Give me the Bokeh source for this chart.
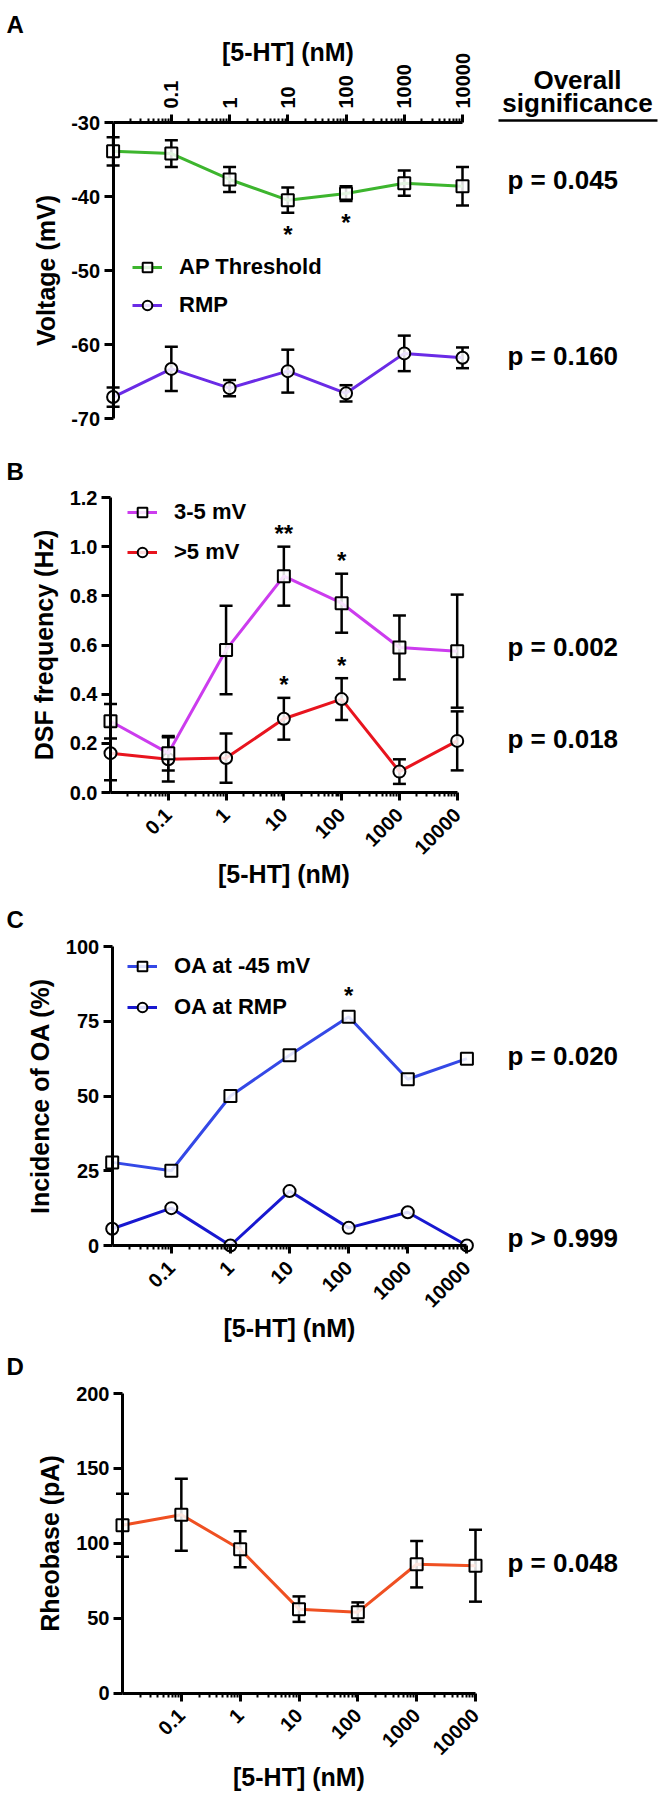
import math
from bokeh.plotting import figure
from bokeh.layouts import column
from bokeh.models import (Range1d, FixedTicker, Label, Legend, LegendItem, Arrow,
                          NumeralTickFormatter)
from bokeh.embed import file_html
from bokeh.resources import INLINE

# ---------------- data ----------------
conc = [0.01, 0.1, 1, 10, 100, 1000, 10000]          # control plotted at 0.01
tick_conc = [0.1, 1, 10, 100, 1000, 10000]
tick_labels = ["0.1", "1", "10", "100", "1000", "10000"]
x_title = "[5-HT] (nM)"

# A
ap_mean = [-33.9, -34.2, -37.7, -40.5, -39.6, -38.2, -38.6]
ap_sem = [1.9, 1.8, 1.7, 1.7, 1.0, 1.7, 2.6]
rmp_mean = [-67.1, -63.3, -65.9, -63.6, -66.6, -61.2, -61.8]
rmp_sem = [1.3, 3.0, 1.1, 2.9, 1.1, 2.4, 1.4]
a_yticks = [-70, -60, -50, -40, -30]
a_p = ["p = 0.045", "p = 0.160"]
a_sig_idx = [3, 4]
a_sig_txt = ["*", "*"]

# B
dsf35_mean = [0.29, 0.16, 0.58, 0.88, 0.77, 0.59, 0.575]
dsf35_sem = [0.07, 0.07, 0.18, 0.12, 0.12, 0.13, 0.23]
dsf5_mean = [0.16, 0.135, 0.14, 0.30, 0.38, 0.085, 0.21]
dsf5_sem = [0.11, 0.09, 0.10, 0.085, 0.085, 0.05, 0.12]
b_yticks = [0.0, 0.2, 0.4, 0.6, 0.8, 1.0, 1.2]
b_p = ["p = 0.002", "p = 0.018"]
b_sig35_idx = [3, 4]
b_sig35_txt = ["**", "*"]
b_sig5_idx = [3, 4]
b_sig5_txt = ["*", "*"]

# C
oa45 = [27.8, 25.0, 50.0, 63.6, 76.5, 55.6, 62.5]
oarmp = [5.6, 12.5, 0.0, 18.2, 5.9, 11.1, 0.0]
c_yticks = [0, 25, 50, 75, 100]
c_p = ["p = 0.020", "p > 0.999"]
c_sig_idx = [4]
c_sig_txt = ["*"]

# D
rheo_mean = [112, 119, 96, 56, 54, 86, 85]
rheo_sem = [21, 24, 12, 8.5, 6.5, 15.5, 24]
d_yticks = [0, 50, 100, 150, 200]
d_p = ["p = 0.048"]

# ---------------- style / layout ----------------
W = 666
FONT = "Liberation Sans"
P_X = 507
LBL_DY = 9          # baseline correction for Label annotations
MINOR = [m * 10.0 ** e for e in range(-2, 4) for m in range(2, 10)]

GREEN = "#3DB52E"
PURPLE = "#6A2BE6"
MAGENTA = "#CC3CEE"
RED = "#E8141E"
BLUE1 = "#3448E6"
BLUE2 = "#1818D0"
ORANGE = "#EF5022"


class Geo:
    pass


def make_fig(H, axl, axr, axt, axb, ylo, yhi, yticks, yfmt, ylabel, x_above,
             ylab_standoff, xlab_standoff, xtick_standoff):
    # the frame covers the whole figure; axes are pinned inside it
    g = Geo()
    g.H = H
    g.dec = (axr - axl) / 6.0
    g.upp = (yhi - ylo) / float(axb - axt)
    g.xs = 0.01 / 10 ** (axl / g.dec)
    g.xe = 10000 * 10 ** ((W - axr) / g.dec)
    g.ys = ylo - (H - axb) * g.upp
    g.ye = yhi + axt * g.upp
    g.axl, g.axr = axl, axr
    p = figure(x_axis_type="log", x_axis_location="above" if x_above else "below",
               x_range=Range1d(g.xs, g.xe), y_range=Range1d(g.ys, g.ye),
               frame_width=W, frame_height=H, min_border=0,
               min_border_left=0, min_border_right=0, min_border_top=0, min_border_bottom=0,
               toolbar_location=None, output_backend="svg",
               background_fill_color="white", border_fill_color="white")
    p.outline_line_color = None
    p.xgrid.visible = False
    p.ygrid.visible = False
    xa = p.xaxis[0]
    ya = p.yaxis[0]
    xa.fixed_location = yhi if x_above else ylo
    xa.bounds = (0.01, 10000)
    xa.ticker = FixedTicker(ticks=tick_conc, minor_ticks=MINOR)
    xa.major_label_overrides = dict(zip(tick_conc, tick_labels))
    xa.major_label_orientation = math.pi / 2 if x_above else math.pi / 4
    xa.axis_label = x_title
    xa.axis_label_standoff = xlab_standoff
    ya.fixed_location = 0.01
    ya.bounds = (ylo, yhi)
    ya.ticker = FixedTicker(ticks=yticks, minor_ticks=[])
    ya.formatter = NumeralTickFormatter(format=yfmt)
    ya.axis_label = ylabel
    ya.axis_label_standoff = ylab_standoff
    for ax in (xa, ya):
        ax.axis_line_width = 3
        ax.axis_line_color = "black"
        ax.major_tick_line_width = 3
        ax.major_tick_line_color = "black"
        ax.minor_tick_line_width = 2
        ax.minor_tick_line_color = "black"
        ax.major_tick_in = 0
        ax.minor_tick_in = 0
        ax.major_label_standoff = 4
        ax.major_label_text_font = FONT
        ax.major_label_text_font_style = "bold"
        ax.major_label_text_font_size = "20px"
        ax.major_label_text_color = "black"
        ax.axis_label_text_font = FONT
        ax.axis_label_text_font_style = "bold"
        ax.axis_label_text_font_size = "25px"
        ax.axis_label_text_color = "black"
    xa.major_label_standoff = xtick_standoff
    xa.major_tick_out = 8
    xa.minor_tick_out = 4
    ya.major_tick_out = 9
    return p, g


def series(p, mean, sem, color, marker):
    if sem is not None:
        lo = [m - s for m, s in zip(mean, sem)]
        hi = [m + s for m, s in zip(mean, sem)]
        p.segment(conc, lo, conc, hi, line_color="black", line_width=2.5)
        p.scatter(conc, lo, marker="dash", size=13, line_color="black", line_width=2.5)
        p.scatter(conc, hi, marker="dash", size=13, line_color="black", line_width=2.5)
    lr = p.line(conc, mean, line_color=color, line_width=3)
    mr = p.scatter(conc, mean, marker=marker, size=12, line_color="black",
                   line_width=2, fill_color="white", fill_alpha=0.85)
    return lr, mr


def legend(p, g, items, left_x, last_row_bottom, spacing):
    leg = Legend(items=[LegendItem(label=lab, renderers=list(r)) for lab, r in items],
                 location=(left_x, g.H - last_row_bottom),
                 orientation="vertical", border_line_color=None, background_fill_alpha=0,
                 padding=0, margin=0, spacing=spacing, glyph_width=30, glyph_height=24,
                 label_height=24, label_standoff=17, label_text_font=FONT,
                 label_text_font_style="bold", label_text_font_size="22px",
                 label_text_color="black")
    p.add_layout(leg)


def px2x(g, px):
    return 10 ** (math.log10(g.xs) + px / g.dec)


def py2y(g, py):
    return g.ye - py * g.upp


def put(p, g, px, py, text, size, align="left"):
    p.add_layout(Label(x=px2x(g, px), y=py2y(g, py), y_offset=LBL_DY, text=text,
                       text_font=FONT, text_font_style="bold", text_font_size=size,
                       text_align=align, text_baseline="alphabetic", text_color="black"))


def put_data(p, x, y, dx, dy, text, size, align="left"):
    p.add_layout(Label(x=x, y=y, x_offset=dx, y_offset=dy + LBL_DY, text=text,
                       text_font=FONT, text_font_style="bold", text_font_size=size,
                       text_align=align, text_baseline="alphabetic", text_color="black"))


# ---------------- Panel A ----------------
pA, gA = make_fig(440, 112.6, 462, 122, 418, -70, -30, a_yticks, "0", "Voltage (mV)",
                  True, 9, -16, 6)
r_rmp = series(pA, rmp_mean, rmp_sem, PURPLE, "circle")
r_ap = series(pA, ap_mean, ap_sem, GREEN, "square")
legend(pA, gA, [("AP Threshold", r_ap), ("RMP", r_rmp)], 132, 318, 12)
put(pA, gA, 6, 33, "A", "24px")
put(pA, gA, 577, 88, "Overall", "26px", "center")
put(pA, gA, 577, 111, "significance", "26px", "center")
pA.add_layout(Arrow(end=None, x_start=px2x(gA, 498), y_start=py2y(gA, 120),
                    x_end=px2x(gA, 657), y_end=py2y(gA, 120),
                    line_color="black", line_width=2.5))
for txt, m, dy in zip(a_p, [ap_mean, rmp_mean], [-3, -7]):
    put_data(pA, conc[-1], m[-1], P_X - gA.axr, dy, txt, "26px")
for i, t in zip(a_sig_idx, a_sig_txt):
    put_data(pA, conc[i], ap_mean[i] - ap_sem[i], 0, -31, t, "24px", "center")

# ---------------- Panel B ----------------
pB, gB = make_fig(455, 110, 456.7, 57, 352, 0.0, 1.2, b_yticks, "0.0",
                  "DSF frequency (Hz)", False, 9, -4, 11)
r5 = series(pB, dsf5_mean, dsf5_sem, RED, "circle")
r35 = series(pB, dsf35_mean, dsf35_sem, MAGENTA, "square")
legend(pB, gB, [("3-5 mV", r35), (">5 mV", r5)], 127, 125, 14)
put(pB, gB, 6, 40, "B", "24px")
for txt, m, dy in zip(b_p, [dsf35_mean, dsf5_mean], [-5, -7]):
    put_data(pB, conc[-1], m[-1], P_X - gB.axr, dy, txt, "26px")
for i, t in zip(b_sig35_idx, b_sig35_txt):
    put_data(pB, conc[i], dsf35_mean[i] + dsf35_sem[i], 0, 4, t, "24px", "center")
for i, t in zip(b_sig5_idx, b_sig5_txt):
    put_data(pB, conc[i], dsf5_mean[i] + dsf5_sem[i], 0, 4, t, "24px", "center")

# ---------------- Panel C ----------------
pC, gC = make_fig(450, 111.7, 466.4, 51, 350, 0, 100, c_yticks, "0",
                  "Incidence of OA (%)", False, 9, -3, 11)
rc2 = series(pC, oarmp, None, BLUE2, "circle")
rc1 = series(pC, oa45, None, BLUE1, "square")
legend(pC, gC, [("OA at -45 mV", rc1), ("OA at RMP", rc2)], 127, 125, 15)
put(pC, gC, 6, 33, "C", "24px")
for txt, m, dy in zip(c_p, [oa45, oarmp], [-6, -1]):
    put_data(pC, conc[-1], m[-1], P_X - gC.axr, dy, txt, "26px")
for i, t in zip(c_sig_idx, c_sig_txt):
    put_data(pC, conc[i], oa45[i], 0, 12, t, "24px", "center")

# ---------------- Panel D ----------------
pD, gD = make_fig(455, 122, 475, 48, 347.5, 0, 200, d_yticks, "0",
                  "Rheobase (pA)", False, 9, -2, 11)
series(pD, rheo_mean, rheo_sem, ORANGE, "square")
put(pD, gD, 6, 30, "D", "24px")
for txt, m, dy in zip(d_p, [rheo_mean], [-6]):
    put_data(pD, conc[-1], m[-1], P_X - gD.axr, dy, txt, "26px")

layout = column(pA, pB, pC, pD)
open("out.html", "w").write(file_html(layout, INLINE))
